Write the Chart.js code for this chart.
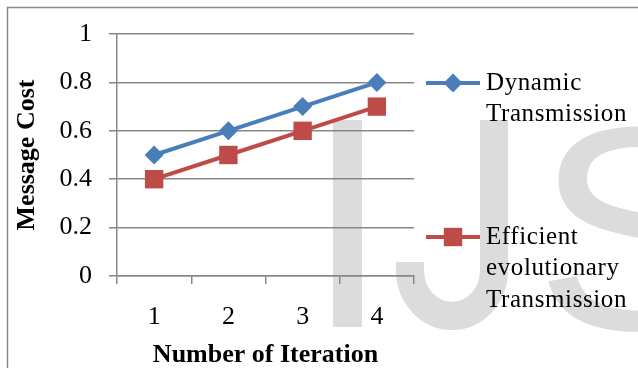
<!DOCTYPE html>
<html>
<head>
<meta charset="utf-8">
<script src="https://cdn.jsdelivr.net/npm/chart.js@4"></script>
<style>
  html, body { margin: 0; padding: 0; background: #ffffff; }
  #wrap { width: 638px; height: 368px; position: relative; }
</style>
</head>
<body>
<div id="wrap"><canvas id="c" width="638" height="368"></canvas></div>
<script>
// ---- data ----
const categories = ['1', '2', '3', '4'];
const dynamicValues = [0.5, 0.6, 0.7, 0.8];
const efficientValues = [0.4, 0.5, 0.6, 0.7];
const seriesNames = ['Dynamic Transmission', 'Efficient evolutionary Transmission'];
const legendLines = [['Dynamic', 'Transmission'], ['Efficient', 'evolutionary', 'Transmission']];
const yTicks = [0, 0.2, 0.4, 0.6, 0.8, 1];
const xTitle = 'Number of Iteration';
const yTitle = 'Message Cost';

const serif = '"Liberation Serif", "Times New Roman", "DejaVu Serif", serif';
const BLUE = '#4A7EBB';
const RED = '#BE4B48';
const AXIS = '#878787';
const WM = '#DCDCDC';

const bgPlugin = {
  id: 'bg',
  beforeDraw(chart) {
    const ctx = chart.ctx;
    ctx.save();
    // watermark "IJS"
    ctx.fillStyle = WM;
    ctx.strokeStyle = WM;
    // I
    ctx.fillRect(333, 120, 29, 207);
    // J
    ctx.lineWidth = 28;
    ctx.lineCap = 'butt';
    ctx.beginPath();
    ctx.moveTo(494, 120);
    ctx.lineTo(494, 270);
    ctx.ellipse(452, 270, 42, 46, 0, 0, Math.PI, false);
    ctx.lineTo(410, 262);
    ctx.stroke();
    // S
    const fam = '"Liberation Sans", Arial, sans-serif';
    ctx.font = '290px ' + fam;
    ctx.textBaseline = 'alphabetic';
    ctx.textAlign = 'left';
    const m = ctx.measureText('S');
    const bl = (typeof m.actualBoundingBoxLeft === 'number') ? m.actualBoundingBoxLeft : -15;
    ctx.save();
    ctx.translate(544, 0);
    ctx.scale(1.08, 1);
    ctx.fillText('S', bl, 329);
    ctx.restore();
    // outer border (left and top)
    ctx.strokeStyle = '#8A8A8A';
    ctx.lineWidth = 1.5;
    ctx.beginPath();
    ctx.moveTo(7.5, 368);
    ctx.lineTo(7.5, 7.5);
    ctx.lineTo(638, 7.5);
    ctx.stroke();
    ctx.restore();
  }
};

const legendPlugin = {
  id: 'customLegend',
  afterDraw(chart) {
    const ctx = chart.ctx;
    const entries = [
      { y: 83, lines: legendLines[0], ds: chart.data.datasets[0] },
      { y: 237, lines: legendLines[1], ds: chart.data.datasets[1] }
    ];
    ctx.save();
    entries.forEach(e => {
      ctx.strokeStyle = e.ds.borderColor;
      ctx.lineWidth = 4;
      ctx.beginPath();
      ctx.moveTo(426, e.y);
      ctx.lineTo(480, e.y);
      ctx.stroke();
      ctx.fillStyle = e.ds.pointBackgroundColor;
      Chart.helpers.drawPoint(ctx, {
        pointStyle: e.ds.pointStyle, radius: e.ds.pointRadius, rotation: 0, borderWidth: 0
      }, 453, e.y);
      ctx.fillStyle = '#000000';
      ctx.font = '25px ' + serif;
      ctx.textAlign = 'left';
      ctx.textBaseline = 'middle';
      try { ctx.letterSpacing = '0.6px'; } catch (err) {}
      e.lines.forEach((t, i) => ctx.fillText(t, 486, e.y + i * 31.5));
    });
    ctx.restore();
  }
};

new Chart(document.getElementById('c'), {
  type: 'line',
  data: {
    labels: categories,
    datasets: [
      {
        label: seriesNames[0],
        data: dynamicValues,
        borderColor: BLUE,
        backgroundColor: BLUE,
        pointBackgroundColor: BLUE,
        pointBorderColor: BLUE,
        pointStyle: 'rectRot',
        pointRadius: 9.5,
        pointBorderWidth: 0,
        borderWidth: 4,
        tension: 0
      },
      {
        label: seriesNames[1],
        data: efficientValues,
        borderColor: RED,
        backgroundColor: RED,
        pointBackgroundColor: RED,
        pointBorderColor: RED,
        pointStyle: 'rect',
        pointRadius: 13,
        pointBorderWidth: 0,
        borderWidth: 4,
        tension: 0
      }
    ]
  },
  options: {
    responsive: false,
    animation: false,
    devicePixelRatio: 1,
    layout: { padding: { left: 0, right: 224, top: 34, bottom: 0 } },
    plugins: {
      legend: { display: false },
      tooltip: { enabled: false }
    },
    scales: {
      x: {
        type: 'category',
        offset: true,
        grid: {
          offset: true,
          drawOnChartArea: false,
          drawTicks: true,
          tickLength: 8,
          color: AXIS,
          lineWidth: 1.5
        },
        border: { display: true, color: AXIS, width: 1.5 },
        ticks: {
          color: '#000000',
          font: { family: serif, size: 26, lineHeight: 1 },
          padding: 20,
          maxRotation: 0
        },
        title: {
          display: true,
          text: xTitle,
          color: '#000000',
          font: { family: serif, size: 26, weight: 'bold', lineHeight: 1 },
          padding: { top: 0, bottom: 0 }
        },
        afterFit(scale) { scale.height = 92; }
      },
      y: {
        min: 0,
        max: 1,
        afterBuildTicks(scale) { scale.ticks = yTicks.map(v => ({ value: v })); },
        grid: {
          color: AXIS,
          lineWidth: 1.5,
          drawTicks: true,
          tickLength: 8
        },
        border: { display: true, color: AXIS, width: 1.5 },
        ticks: {
          color: '#000000',
          font: { family: serif, size: 26, lineHeight: 1 },
          padding: 17,
          callback: v => String(v)
        },
        title: {
          display: true,
          text: yTitle,
          color: '#000000',
          font: { family: serif, size: 26, weight: 'bold', lineHeight: 1 },
          padding: { top: 14, bottom: 0 }
        },
        afterFit(scale) { scale.width = 117; }
      }
    }
  },
  plugins: [bgPlugin, legendPlugin]
});
</script>
</body>
</html>
